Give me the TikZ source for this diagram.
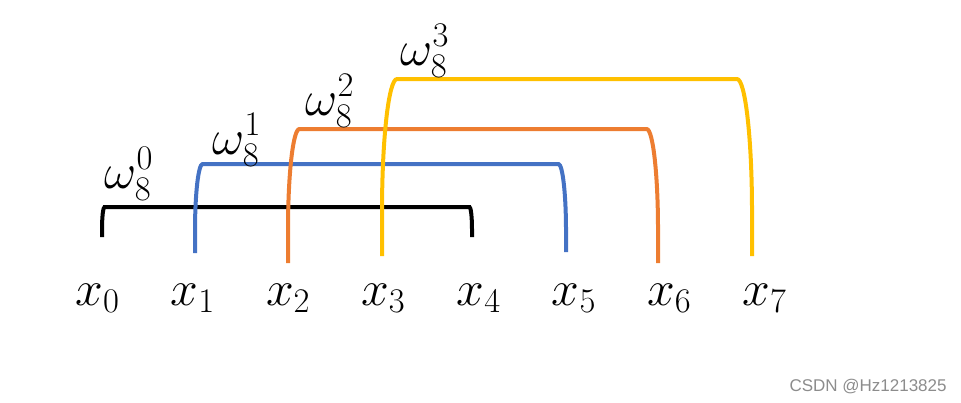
\documentclass[tikz,border=0pt]{standalone}
\usepackage{fontspec}
\newfontfamily\wmfont{Liberation Sans}
\definecolor{bblue}{HTML}{4472C4}
\definecolor{borange}{HTML}{ED7D31}
\definecolor{byellow}{HTML}{FFC000}
\begin{document}
\begin{tikzpicture}[x=0.5pt, y=0.5pt, font=\fontsize{25}{30}\selectfont]
        \tikzset{bracket/.style={line width=2pt}}
        \useasboundingbox (0,0) rectangle (961,-402);

        \foreach \c/\l/\r/\t/\b/\e in {black/102/472/207/237/237, bblue/195/566/164/253/252, borange/288/658/129/263/263, byellow/382/752/79/256/256} {
            \pgfmathsetmacro\h{\b-\t}
            \pgfmathsetmacro\rx{0.085*\h}
            \pgfmathsetmacro\ry{0.75*\h}
            \draw[bracket, \c] (\l,-\b) -- (\l,-\t-\ry)
                arc[start angle=180, end angle=90, x radius=\rx, y radius=\ry]
                -- (\r-\rx,-\t)
                arc[start angle=90, end angle=0, x radius=\rx, y radius=\ry]
                -- (\r,-\e);
        }

        \foreach \i/\px/\py in {0/129/174, 1/237/140, 2/330/101, 3/425/51}
            \node (w\i) at (\px,-\py) {$\omega_8^{\i}$};

        \foreach \i in {0,...,7}
            \node[anchor=base west, inner sep=0pt] (x\i) at (75+95.3*\i,-305) {$x_{\i}$};

        \node[anchor=east, inner sep=0pt, text=black!45, font=\wmfont\fontsize{8.5}{10}\selectfont] (wm) at (947,-387) {CSDN @Hz1213825};
    \end{tikzpicture}
\end{document}
